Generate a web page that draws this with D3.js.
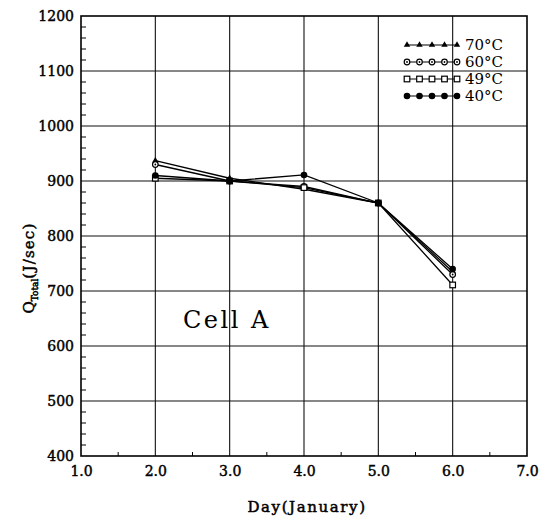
<!DOCTYPE html>
<html>
<head>
<meta charset="utf-8">
<script src="https://cdn.jsdelivr.net/npm/d3@7"></script>
<style>
  body { margin: 0; background: #fff; }
  text { font-family: "DejaVu Serif", "Liberation Serif", serif; fill: #000; }
</style>
</head>
<body>
<svg id="chart" width="547" height="521"></svg>
<script>
// Data
const days = [2.0, 3.0, 4.0, 5.0, 6.0];
const q70 = [937, 905, 885, 860, 735];
const q60 = [930, 900, 890, 860, 730];
const q49 = [905, 900, 888, 860, 711];
const q40 = [910, 900, 911, 860, 740];

const seriesNames = ["70°C", "60°C", "49°C", "40°C"];
const xTicks = [1, 2, 3, 4, 5, 6, 7];
const yTicks = [400, 500, 600, 700, 800, 900, 1000, 1100, 1200];

const series = [
    { name: seriesNames[0], values: q70, marker: "triangle" },
    { name: seriesNames[1], values: q60, marker: "ocircle" },
    { name: seriesNames[2], values: q49, marker: "square" },
    { name: seriesNames[3], values: q40, marker: "dot" }
];

const pLeft = 81, pRight = 527, pTop = 16, pBottom = 456;

const x = d3.scaleLinear().domain([1, 7]).range([pLeft, pRight]);
const y = d3.scaleLinear().domain([400, 1200]).range([pBottom, pTop]);

const svg = d3.select("#chart");

// grid lines at the major ticks
const grid = svg.append("g").attr("class", "grid");
grid.selectAll("line.gx")
    .data(xTicks.slice(1, -1))
    .enter().append("line")
    .attr("x1", d => x(d)).attr("x2", d => x(d))
    .attr("y1", pTop).attr("y2", pBottom)
    .style("stroke", "#111").style("stroke-width", 1.1);
grid.selectAll("line.gy")
    .data(yTicks.slice(1, -1))
    .enter().append("line")
    .attr("x1", pLeft).attr("x2", pRight)
    .attr("y1", d => y(d)).attr("y2", d => y(d))
    .style("stroke", "#111").style("stroke-width", 1.1);

// minor ticks, pointing inwards
let yMinor = d3.range(420, 1200, 20).filter(v => v % 100 != 0);
grid.selectAll("line.my")
    .data(yMinor)
    .enter().append("line")
    .attr("x1", pLeft).attr("x2", pLeft + 5)
    .attr("y1", d => y(d)).attr("y2", d => y(d))
    .style("stroke", "#000").style("stroke-width", 1);
let xMinor = d3.range(1.5, 7, 1);
grid.selectAll("line.mx")
    .data(xMinor)
    .enter().append("line")
    .attr("x1", d => x(d)).attr("x2", d => x(d))
    .attr("y1", pBottom).attr("y2", pBottom - 4)
    .style("stroke", "#000").style("stroke-width", 1);

// frame
svg.append("rect")
    .attr("x", pLeft).attr("y", pTop)
    .attr("width", pRight - pLeft).attr("height", pBottom - pTop)
    .style("fill", "none").style("stroke", "#000").style("stroke-width", 1.6);

// axes (labels only, the frame draws the lines)
let xAxis = d3.axisBottom(x).tickValues(xTicks).tickSize(0).tickPadding(10)
    .tickFormat(d3.format(".1f"));
svg.append("g")
    .attr("transform", `translate(0,${pBottom})`)
    .call(xAxis)
    .call(g => g.select(".domain").remove())
    .selectAll("text")
    .style("font-family", "DejaVu Serif").style("font-size", "14px")
    .style("stroke", "#000").style("stroke-width", 0.45);

let yAxis = d3.axisLeft(y).tickValues(yTicks).tickSize(0).tickPadding(7)
    .tickFormat(d3.format("d"));
svg.append("g")
    .attr("transform", `translate(${pLeft},0)`)
    .call(yAxis)
    .call(g => g.select(".domain").remove())
    .selectAll("text")
    .style("font-family", "DejaVu Serif").style("font-size", "14px")
    .style("stroke", "#000").style("stroke-width", 0.45);

// axis titles
svg.append("text")
    .attr("x", 307).attr("y", 512)
    .attr("text-anchor", "middle")
    .style("font-size", "15px")
    .style("stroke", "#000").style("stroke-width", 0.5)
    .style("letter-spacing", "1.6px")
    .text("Day(January)");

let yTitle = svg.append("text")
    .attr("transform", "translate(34,268) rotate(-90)")
    .attr("text-anchor", "middle")
    .style("font-size", "15px")
    .style("stroke", "#000").style("stroke-width", 0.5);
yTitle.append("tspan").text("Q");
yTitle.append("tspan").attr("dy", 4).style("font-size", "9px").text("Total");
yTitle.append("tspan").attr("dy", -4).style("letter-spacing", "1.2px").text("(J/sec)");

// annotation
svg.append("text")
    .attr("x", 183).attr("y", 328)
    .style("font-size", "24px")
    .style("letter-spacing", "2.5px")
    .text("Cell  A");

// markers
function drawMarker(g, type, cx, cy) {
    if (type == "triangle") {
        g.append("path")
            .attr("d", d3.symbol(d3.symbolTriangle, 18)())
            .attr("transform", `translate(${cx},${cy})`)
            .style("fill", "#000");
    } else if (type == "ocircle") {
        g.append("circle").attr("cx", cx).attr("cy", cy).attr("r", 2.8)
            .style("fill", "#fff").style("stroke", "#000").style("stroke-width", 1.2);
        g.append("circle").attr("cx", cx).attr("cy", cy).attr("r", 0.9)
            .style("fill", "#000");
    } else if (type == "square") {
        g.append("rect").attr("x", cx - 2.8).attr("y", cy - 2.8)
            .attr("width", 5.6).attr("height", 5.6)
            .style("fill", "#fff").style("stroke", "#000").style("stroke-width", 1.2);
    } else {
        g.append("circle").attr("cx", cx).attr("cy", cy).attr("r", 3.3)
            .style("fill", "#000");
    }
}

let lineGen = d3.line()
    .x((d, i) => x(days[i]))
    .y(d => y(d));

let plot = svg.append("g").attr("class", "plot");
series.forEach(s => {
    plot.append("path")
        .datum(s.values)
        .attr("d", lineGen)
        .style("fill", "none")
        .style("stroke", "#000")
        .style("stroke-width", 1.3);
});
series.forEach(s => {
    s.values.forEach((v, i) => drawMarker(plot, s.marker, x(days[i]), y(v)));
});

// legend
let legend = svg.append("g").attr("class", "legend");
let legendX = d3.scaleLinear().domain([0, 4]).range([407, 457]);
series.forEach((s, k) => {
    let ly = 45 + k * 17;
    legend.append("line")
        .attr("x1", legendX(0)).attr("x2", legendX(4))
        .attr("y1", ly).attr("y2", ly)
        .style("stroke", "#000").style("stroke-width", 1.2);
    d3.range(5).forEach(j => drawMarker(legend, s.marker, legendX(j), ly));
    legend.append("text")
        .attr("x", 465).attr("y", ly + 5)
        .style("font-size", "15px")
        .text(s.name);
});
</script>
</body>
</html>
